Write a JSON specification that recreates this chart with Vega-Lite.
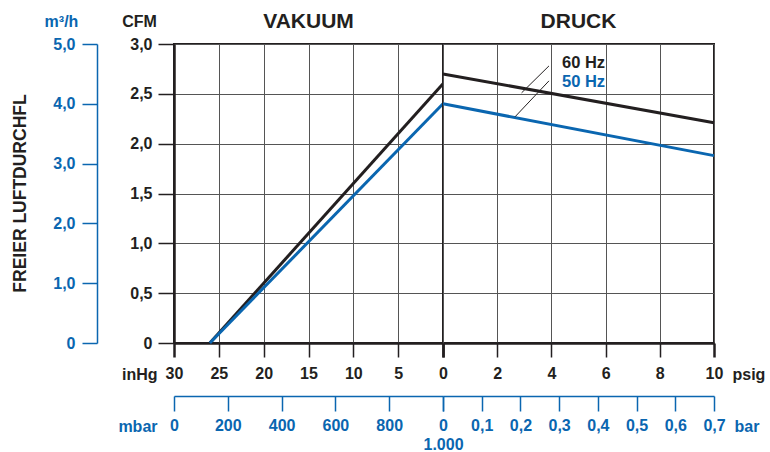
{
  "$schema": "https://vega.github.io/schema/vega-lite/v6.json",
  "background": "white",
  "padding": {"left": 11, "top": 10, "right": 0, "bottom": 0},
  "spacing": 0,
  "bounds": "flush",
  "title": {"text": "FREIER LUFTDURCHFL", "orient": "left", "anchor": "middle", "fontSize": 17.5, "font": "Liberation Sans", "fontWeight": "bold", "color": "#231f20", "offset": 14, "dx": 38},
  "config": {
    "font": "Liberation Sans",
    "view": {"stroke": "#231f20", "strokeWidth": 2},
    "concat": {"spacing": 0},
    "axis": {
      "labelFont": "Liberation Sans", "labelFontWeight": "bold", "labelFontSize": 16, "labelColor": "#231f20",
      "titleFont": "Liberation Sans", "titleFontWeight": "bold", "titleFontSize": 16, "titleColor": "#231f20",
      "gridColor": "#555555", "gridWidth": 1, "gridOpacity": 1,
      "domainColor": "#231f20", "tickColor": "#231f20",
      "labelFlush": false, "labelOverlap": false, "labelBound": false
    },
    "title": {"font": "Liberation Sans", "fontWeight": "bold", "fontSize": 21, "color": "#231f20"}
  },
  "datasets": {
    "vac": [
      {"freq": "60 Hz", "inhg": 26.0, "cfm": 0, "mbar": 120, "m3h": 0},
      {"freq": "60 Hz", "inhg": 0, "cfm": 2.6, "mbar": 1000, "m3h": 4.42},
      {"freq": "50 Hz", "inhg": 26.0, "cfm": 0, "mbar": 120, "m3h": 0},
      {"freq": "50 Hz", "inhg": 0, "cfm": 2.4, "mbar": 1000, "m3h": 4.08}
    ],
    "prs": [
      {"freq": "60 Hz", "psig": 0, "cfm": 2.7, "bar": 0},
      {"freq": "60 Hz", "psig": 10, "cfm": 2.21, "bar": 0.69},
      {"freq": "50 Hz", "psig": 0, "cfm": 2.4, "bar": 0},
      {"freq": "50 Hz", "psig": 10, "cfm": 1.88, "bar": 0.69}
    ],
    "leaders": [
      {"px": 3.91, "py": 2.78, "px2": 2.9, "py2": 2.51},
      {"px": 3.91, "py": 2.63, "px2": 2.66, "py2": 2.27}
    ],
    "labels": [
      {"freq": "60 Hz", "psig": 4.39, "cfm": 2.81},
      {"freq": "50 Hz", "psig": 4.39, "cfm": 2.62}
    ]
  },
  "hconcat": [
    {
      "width": 269,
      "height": 299,
      "title": {"text": "VAKUUM", "offset": -19},
      "layer": [
        {
          "data": {"name": "vac"},
          "mark": {"type": "line", "strokeWidth": 3},
          "encoding": {
            "x": {
              "field": "inhg", "type": "quantitative",
              "scale": {"domain": [30, 0]},
              "axis": {
                "values": [30, 25, 20, 15, 10, 5, 0],
                "title": "inHg", "titleX": -17, "titleY": 31, "titleAlign": "right", "titleBaseline": "middle",
                "domainWidth": 2.5, "tickSize": 14,
                "tickWidth": {"condition": {"test": "datum.value == 30 || datum.value == 0", "value": 2.5}, "value": 1.5},
                "labelPadding": 8, "grid": true
              }
            },
            "y": {
              "field": "cfm", "type": "quantitative",
              "scale": {"domain": [0, 3]},
              "axis": {
                "values": [0, 0.5, 1, 1.5, 2, 2.5, 3],
                "title": "CFM", "titleAngle": 0, "titleX": -35, "titleY": -23, "titleAlign": "center", "titleBaseline": "middle",
                "labelExpr": "datum.value == 0 ? '0' : replace(format(datum.value, '.1f'), '.', ',')",
                "domainWidth": 2.5, "tickSize": 16, "tickWidth": 1.5, "labelPadding": 6, "grid": true
              }
            },
            "color": {"field": "freq", "type": "nominal", "scale": {"domain": ["60 Hz", "50 Hz"], "range": ["#231f20", "#0a66b0"]}, "legend": null}
          }
        },
        {
          "data": {"name": "vac"},
          "mark": {"type": "point", "opacity": 0},
          "encoding": {
            "x": {
              "field": "mbar", "type": "quantitative",
              "scale": {"domain": [0, 1000]},
              "axis": {
                "orient": "bottom", "offset": 53,
                "values": [0, 200, 400, 600, 800, 1000],
                "labelExpr": "datum.value == 1000 ? ['0', '1.000'] : datum.label",
                "title": "mbar", "titleX": -17, "titleY": 30, "titleAlign": "right", "titleBaseline": "middle",
                "domainColor": "#0a66b0", "tickColor": "#0a66b0", "labelColor": "#0a66b0", "titleColor": "#0a66b0",
                "domainWidth": 1.5, "tickWidth": 1.5, "tickSize": 15, "labelPadding": 6, "grid": false, "labelLineHeight": 19
              }
            },
            "y": {
              "field": "m3h", "type": "quantitative",
              "scale": {"domain": [0, 5]},
              "axis": {
                "orient": "left", "offset": 77,
                "values": [0, 1, 2, 3, 4, 5],
                "labelExpr": "datum.value == 0 ? '0' : replace(format(datum.value, '.1f'), '.', ',')",
                "title": "m³/h", "titleAngle": 0, "titleX": -36, "titleY": -23, "titleAlign": "center", "titleBaseline": "middle",
                "domainColor": "#0a66b0", "tickColor": "#0a66b0", "labelColor": "#0a66b0", "titleColor": "#0a66b0",
                "domainWidth": 1.5, "tickWidth": 1.5, "tickSize": 15, "labelPadding": 7, "grid": false
              }
            }
          }
        }
      ],
      "resolve": {"scale": {"x": "independent", "y": "independent"}}
    },
    {
      "width": 271,
      "height": 299,
      "title": {"text": "DRUCK", "offset": 12},
      "layer": [
        {
          "layer": [
            {
              "data": {"name": "prs"},
              "mark": {"type": "line", "strokeWidth": 3},
              "encoding": {
                "x": {
                  "field": "psig", "type": "quantitative",
                  "scale": {"domain": [0, 10]},
                  "axis": {
                    "values": [0, 2, 4, 6, 8, 10],
                    "labelExpr": "datum.value == 0 ? '' : datum.label",
                    "title": "psig", "titleX": 289, "titleY": 31, "titleAlign": "left", "titleBaseline": "middle",
                    "domainWidth": 2.5, "tickSize": 14,
                    "tickWidth": {"condition": {"test": "datum.value == 10 || datum.value == 0", "value": 2.5}, "value": 1.5},
                    "labelPadding": 8, "grid": true
                  }
                },
                "y": {
                  "field": "cfm", "type": "quantitative",
                  "scale": {"domain": [0, 3]},
                  "axis": {"values": [0, 0.5, 1, 1.5, 2, 2.5, 3], "labels": false, "ticks": false, "domain": false, "title": null, "grid": true, "minExtent": 0, "maxExtent": 0, "labelPadding": 0}
                },
                "color": {"field": "freq", "type": "nominal", "scale": {"domain": ["60 Hz", "50 Hz"], "range": ["#231f20", "#0a66b0"]}, "legend": null}
              }
            },
            {
              "data": {"name": "leaders"},
              "mark": {"type": "rule", "color": "#231f20", "strokeWidth": 1},
              "encoding": {
                "x": {"field": "px", "type": "quantitative"},
                "y": {"field": "py", "type": "quantitative"},
                "x2": {"field": "px2"},
                "y2": {"field": "py2"}
              }
            },
            {
              "data": {"name": "labels"},
              "mark": {"type": "text", "align": "left", "baseline": "middle", "fontSize": 16.5, "fontWeight": "bold", "font": "Liberation Sans"},
              "encoding": {
                "x": {"field": "psig", "type": "quantitative"},
                "y": {"field": "cfm", "type": "quantitative"},
                "text": {"field": "freq"},
                "color": {"field": "freq", "type": "nominal", "scale": {"domain": ["60 Hz", "50 Hz"], "range": ["#231f20", "#0a66b0"]}, "legend": null}
              }
            }
          ]
        },
        {
          "data": {"name": "prs"},
          "mark": {"type": "point", "opacity": 0},
          "encoding": {
            "x": {
              "field": "bar", "type": "quantitative",
              "scale": {"domain": [0, 0.7]},
              "axis": {
                "orient": "bottom", "offset": 53,
                "values": [0, 0.1, 0.2, 0.3, 0.4, 0.5, 0.6, 0.7],
                "labelExpr": "datum.value == 0 ? '' : replace(format(datum.value, '.1f'), '.', ',')",
                "title": "bar", "titleX": 291, "titleY": 30, "titleAlign": "left", "titleBaseline": "middle",
                "domainColor": "#0a66b0", "tickColor": "#0a66b0", "labelColor": "#0a66b0", "titleColor": "#0a66b0",
                "domainWidth": 1.5, "tickWidth": 1.5, "tickSize": 15, "labelPadding": 6, "grid": false
              }
            }
          }
        }
      ],
      "resolve": {"scale": {"x": "independent"}}
    }
  ]
}
